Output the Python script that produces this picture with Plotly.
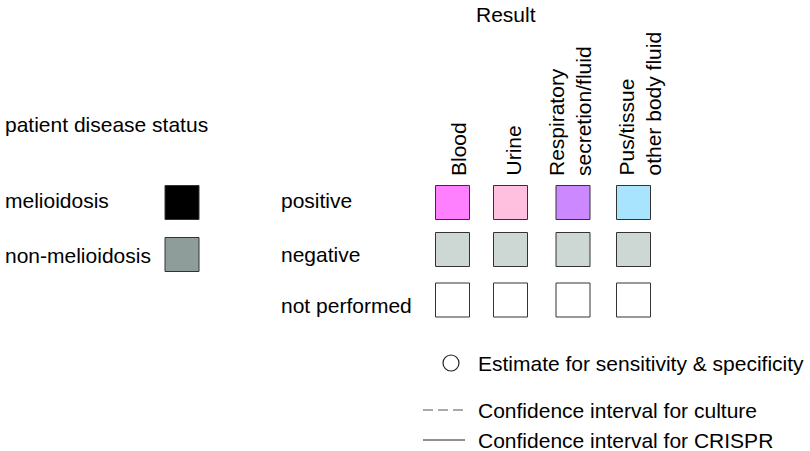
import plotly.graph_objects as go

# ---- data (labels & colours) ----
status_labels = ["melioidosis", "non-melioidosis"]
status_colors = ["#000000", "#8e9c9a"]

result_columns = ["Blood", "Urine", "Respiratory<br>secretion/fluid", "Pus/tissue<br>other body fluid"]
result_rows = ["positive", "negative", "not performed"]
positive_colors = ["#ff80ff", "#ffc0e0", "#cc88ff", "#a8e4fd"]
negative_color = "#cdd8d4"
not_performed_color = "#ffffff"

legend_items = ["Estimate for sensitivity & specificity",
                "Confidence interval for culture",
                "Confidence interval for CRISPR"]

# ---- layout constants (pixel space) ----
W, H = 810, 451
FONT = "Liberation Sans, Arial, Helvetica, sans-serif"
FS = 21
col_x = [452.5, 510.5, 573, 633.5]
col_label_x = [458, 512.5, 570, 639.5]
row_y = [202.5, 249.5, 300]
row_label_y = [200, 254, 305]
status_sq_x = 182
status_y = [202.5, 254.5]
status_label_y = [200, 255]
SQ = 34

fig = go.Figure()
ann = []

def text(x, y, s, xanchor="left", yanchor="middle", angle=0, align="left"):
    ann.append(dict(x=x, y=y, text=s, showarrow=False, xanchor=xanchor, yanchor=yanchor,
                    textangle=angle, align=align, font=dict(family=FONT, size=FS, color="#000")))

# left: patient disease status
text(3, 124, "patient disease status")
for lab, ly in zip(status_labels, status_label_y):
    text(3, ly, lab)
fig.add_trace(go.Scatter(x=[status_sq_x] * len(status_labels), y=status_y, mode="markers",
                         marker=dict(symbol="square", size=SQ, color=status_colors,
                                     line=dict(color="#333", width=1)),
                         hoverinfo="skip", showlegend=False))

# result grid
text(506, 14, "Result", xanchor="center")
for lab, lx in zip(result_columns, col_label_x):
    text(lx, 178, lab, xanchor="center", yanchor="bottom", angle=-90, align="left")
for lab, ly in zip(result_rows, row_label_y):
    text(279, ly, lab)

xs, ys, cs = [], [], []
for ri, ry in enumerate(row_y):
    for ci, cx in enumerate(col_x):
        xs.append(cx)
        ys.append(ry)
        if ri == 0:
            cs.append(positive_colors[ci])
        elif ri == 1:
            cs.append(negative_color)
        else:
            cs.append(not_performed_color)
fig.add_trace(go.Scatter(x=xs, y=ys, mode="markers",
                         marker=dict(symbol="square", size=SQ, color=cs,
                                     line=dict(color="#333", width=1)),
                         hoverinfo="skip", showlegend=False))

# bottom legend
leg_y = [363, 410, 440]
fig.add_trace(go.Scatter(x=[451], y=[leg_y[0]], mode="markers",
                         marker=dict(symbol="circle-open", size=16, color="#222", line=dict(width=1.2)),
                         hoverinfo="skip", showlegend=False))
fig.add_trace(go.Scatter(x=[423, 464], y=[leg_y[1], leg_y[1]], mode="lines",
                         line=dict(color="#555", width=1, dash="10px,5px"),
                         hoverinfo="skip", showlegend=False))
fig.add_trace(go.Scatter(x=[423, 465], y=[leg_y[2], leg_y[2]], mode="lines",
                         line=dict(color="#222", width=1),
                         hoverinfo="skip", showlegend=False))
for lab, ly in zip(legend_items, leg_y):
    text(476, ly, lab)

fig.update_layout(
    width=W, height=H, margin=dict(l=0, r=0, t=0, b=0),
    paper_bgcolor="white", plot_bgcolor="white",
    xaxis=dict(range=[0, W], visible=False, fixedrange=True),
    yaxis=dict(range=[H, 0], visible=False, fixedrange=True),
    annotations=ann, showlegend=False,
)
fig.write_html("out.html", config={"displayModeBar": False},
               post_script="document.body.style.margin='0';document.body.style.overflow='hidden';")
